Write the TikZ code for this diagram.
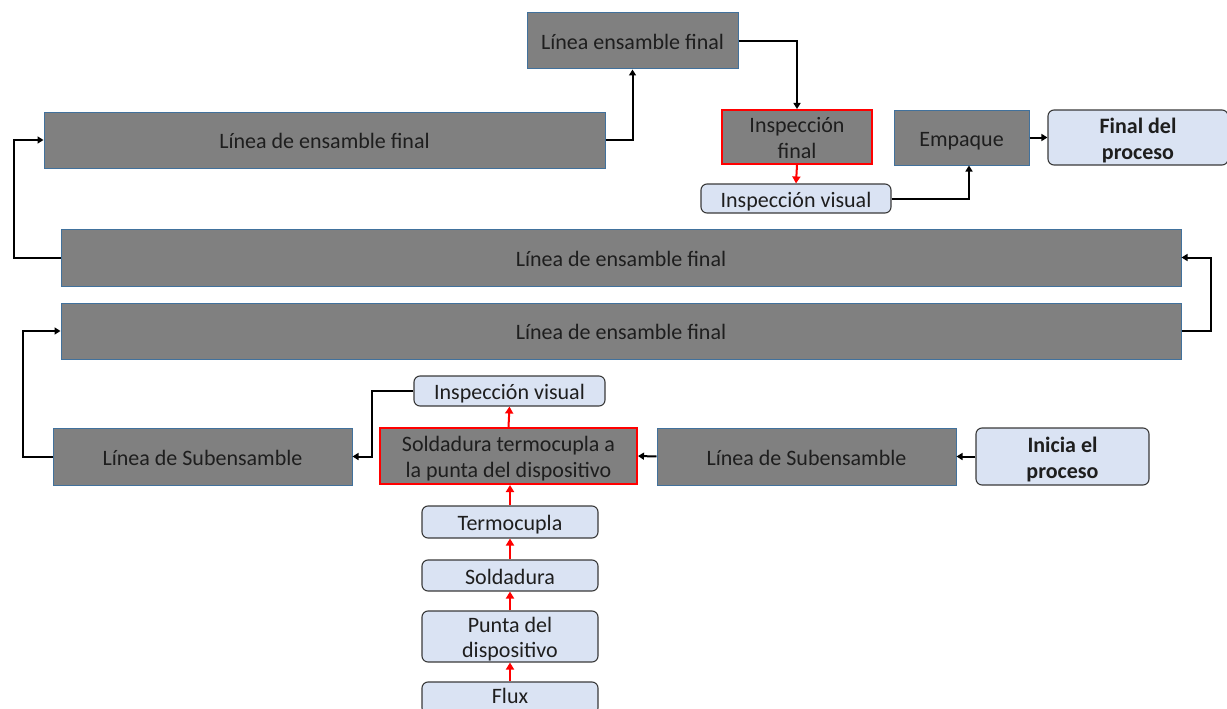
\documentclass[tikz,border=0pt]{standalone}
\usepackage{fontspec}
\setmainfont{Carlito}
\usetikzlibrary{arrows.meta}
\definecolor{gfill}{HTML}{808080}
\definecolor{gline}{HTML}{41719C}
\definecolor{lfill}{HTML}{DAE3F3}
\definecolor{lline}{HTML}{3A3A3A}
\definecolor{txt}{HTML}{1E1E1E}
\newcommand\tx[1]{\raisebox{-3.5pt}[\height][\depth]{\begin{tabular}{@{}c@{}}#1\end{tabular}}}
\newcommand\txup[1]{\raisebox{0pt}[\height][\depth]{\begin{tabular}{@{}c@{}}#1\end{tabular}}}
\tikzset{
  basefont/.style={font=\fontsize{22}{25.5}\selectfont},
  gbox/.style={draw=gline, line width=1pt, fill=gfill, text=txt, basefont, align=center, inner sep=0pt},
  rbox/.style={draw=red, line width=2pt, fill=gfill, text=txt, basefont, align=center, inner sep=0pt},
  lbox/.style={draw=lline, line width=1.1pt, fill=lfill, rounded corners=6pt, text=txt, basefont, align=center, inner sep=0pt},
  boldtxt/.style={font=\fontsize{22}{26}\selectfont\bfseries},
  bconn/.style={draw=black, line width=2pt, -{Triangle[length=6pt,width=7pt]}},
  rconn/.style={draw=red, line width=2pt, -{Triangle[length=7pt,width=8pt]}},
}
\begin{document}
\begin{tikzpicture}[x=1pt,y=-1pt]
\useasboundingbox (0,0) rectangle (1227,709);
\clip (0,0) rectangle (1227,709);
% boxes
\node[gbox, minimum width=211, minimum height=56] (L1) at (632.5,41) {\tx{Línea ensamble final}};
\node[gbox, minimum width=561, minimum height=56] (L2) at (324.5,140) {\tx{Línea de ensamble final}};
\node[rbox, minimum width=150, minimum height=54] (IF) at (797,137) {\tx{Inspección\\final}};
\node[gbox, minimum width=135, minimum height=55] (EM) at (961.5,137.5) {\tx{Empaque}};
\node[lbox, boldtxt, minimum width=180, minimum height=55] (FP) at (1138,137.5) {\tx{Final del\\proceso}};
\node[lbox, minimum width=190, minimum height=29] (IV1) at (796,198.5) {\tx{Inspección visual}};
\node[gbox, minimum width=1120, minimum height=57] (L3) at (621,257.5) {\tx{Línea de ensamble final}};
\node[gbox, minimum width=1120, minimum height=56] (L4) at (621,331) {\tx{Línea de ensamble final}};
\node[lbox, minimum width=191, minimum height=30] (IV2) at (509.5,391) {\tx{Inspección visual}};
\node[rbox, minimum width=257, minimum height=56] (SO) at (508.5,456) {\tx{Soldadura termocupla a\\la punta del dispositivo}};
\node[gbox, minimum width=299, minimum height=57] (LS1) at (202.5,456.5) {\tx{Línea de Subensamble}};
\node[gbox, minimum width=299, minimum height=57] (LS2) at (806.5,456.5) {\tx{Línea de Subensamble}};
\node[lbox, boldtxt, minimum width=173, minimum height=57] (IN) at (1062.5,456.5) {\tx{Inicia el\\proceso}};
\node[lbox, minimum width=176, minimum height=32] (TE) at (510,522) {\tx{Termocupla}};
\node[lbox, minimum width=176, minimum height=31] (SD) at (510,575.5) {\tx{Soldadura}};
\node[lbox, minimum width=176, minimum height=47] (PU) at (510,636.5) {\tx{Punta del\\dispositivo}};
\node[lbox, minimum width=176, minimum height=32] (FX) at (510,698) {\txup{Flux}};
% connectors
\draw[bconn] (L2.east) -| (L1.south);
\draw[bconn] (L1.east) -| (IF.north);
\draw[rconn] (IF.south) -- (IV1.north);
\draw[bconn] (IV1.east) -| ([xshift=7.5pt]EM.south);
\draw[bconn] (EM.east) -- (FP.west);
\draw[bconn] (L3.west) -- ++(-47,0) |- (L2.west);
\draw[bconn] (L4.east) -- ++(29,0) |- (L3.east);
\draw[bconn] (LS1.west) -- ++(-30,0) |- (L4.west);
\draw[bconn] (IV2.west) -- ++(-41,0) |- (LS1.east);
\draw[rconn] (SO.north) -- (IV2.south);
\draw[bconn] (LS2.west) -- (SO.east);
\draw[bconn] (IN.west) -- (LS2.east);
\draw[rconn] (TE.north) -- (TE.north |- SO.south);
\draw[rconn] (SD.north) -- (TE.south);
\draw[rconn] (PU.north) -- (SD.south);
\draw[rconn] (FX.north) -- (PU.south);
\end{tikzpicture}
\end{document}
